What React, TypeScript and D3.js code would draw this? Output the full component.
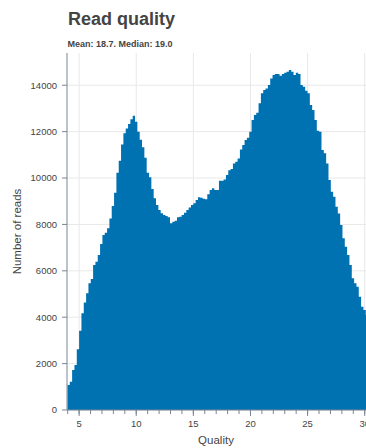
import React from "react";
import * as d3 from "d3";

// Histogram of per-read mean quality scores
const counts: number[] = [
  1080, 1220, 1720, 1940, 2620, 3420, 4170, 4630, 5030, 5460,
  5650, 6250, 6390, 6680, 7160, 7540, 7640, 7830, 8260, 8790,
  9370, 10230, 10750, 11450, 11930, 12140, 12330, 12530, 12690, 12430,
  12000, 11650, 11330, 10870, 10230, 10030, 9530, 9125, 8835, 8620,
  8480, 8405, 8360, 8305, 8050, 8120, 8160, 8305, 8330, 8405,
  8505, 8620, 8735, 8835, 8910, 9050, 9170, 9150, 9110, 9080,
  9300, 9480, 9555, 9480, 9480, 9885, 9885, 9940, 10130, 10340,
  10390, 10630, 10700, 10845, 11235, 11420, 11640, 11735, 12000, 12500,
  12715, 12815, 13220, 13650, 13790, 13865, 14010, 14295, 14440, 14480,
  14480, 14410, 14480, 14540, 14585, 14654, 14585, 14440, 14540, 14480,
  14010, 13935, 13760, 13650, 13150, 12930, 12500, 12040, 12000, 11206,
  11063, 10630, 9913, 9410, 9195, 8763, 8476, 7975, 7400, 7040,
  6680, 6250, 5675, 5460, 5315, 4885, 4455, 4310, 4100,
];
const binStart = 3.98;
const binWidth = 0.204;

const xMajorTicks: number[] = [5, 10, 15, 20, 25, 30];
const xMinorTicks: number[] = d3.range(4, 31);
const yTicks: number[] = [0, 2000, 4000, 6000, 8000, 10000, 12000, 14000];

const titleText = "Read quality";
const subtitleText = "Mean: 18.7. Median: 19.0";
const xLabel = "Quality";
const yLabel = "Number of reads";

const W = 366;
const H = 448;
const frame = { left: 67, right: 367, top: 53, bottom: 410 };
const FONT = "'Liberation Sans', Arial, Helvetica, sans-serif";
const BAR = "#0072B2";
const AXIS = "#7a8696";
const GRID = "#e8e8e8";
const TEXT = "#444444";

export default function App() {
  const x = d3.scaleLinear().domain([3.94, 30.2]).range([frame.left, frame.right]);
  const y = d3.scaleLinear().domain([0, 15390]).range([frame.bottom, frame.top]);

  // Bin edges with counts; the trailing edge repeats the last count so the
  // step area closes the final bin.
  const steps = counts.map((c, i) => ({ edge: binStart + i * binWidth, c }));
  steps.push({ edge: binStart + counts.length * binWidth, c: counts[counts.length - 1] });

  const bars = d3
    .area<{ edge: number; c: number }>()
    .x((d) => x(d.edge))
    .y0(y(0))
    .y1((d) => y(d.c))
    .curve(d3.curveStepAfter);

  return (
    <svg
      width={W}
      height={H}
      style={{ position: "absolute", left: 0, top: 0, background: "#fff" }}
      fontFamily={FONT}
    >
      <rect x={0} y={0} width={W} height={H} fill="#fff" />
      {/* grid */}
      {xMajorTicks.map((t) => (
        <line key={"gx" + t} x1={x(t)} x2={x(t)} y1={frame.top} y2={frame.bottom} stroke={GRID} strokeWidth={1} />
      ))}
      {yTicks.map((t) => (
        <line key={"gy" + t} x1={frame.left} x2={frame.right} y1={y(t)} y2={y(t)} stroke={GRID} strokeWidth={1} />
      ))}
      {/* histogram bars */}
      <path d={bars(steps) || ""} fill={BAR} />
      {/* y axis */}
      <line x1={frame.left} x2={frame.left} y1={frame.top} y2={frame.bottom} stroke={AXIS} strokeWidth={1} />
      {yTicks.map((t) => (
        <g key={"ty" + t}>
          <line x1={frame.left - 5} x2={frame.left} y1={y(t)} y2={y(t)} stroke={AXIS} strokeWidth={1} />
          <text x={frame.left - 10} y={y(t)} dy="0.35em" textAnchor="end" fontSize={9.5} fill={TEXT}>
            {t}
          </text>
        </g>
      ))}
      {/* x axis */}
      <line x1={frame.left} x2={frame.right} y1={frame.bottom} y2={frame.bottom} stroke={AXIS} strokeWidth={1} />
      {xMinorTicks.map((t) => (
        <line key={"mx" + t} x1={x(t)} x2={x(t)} y1={frame.bottom} y2={frame.bottom + 4} stroke={AXIS} strokeWidth={1} />
      ))}
      {xMajorTicks.map((t) => (
        <g key={"tx" + t}>
          <line x1={x(t)} x2={x(t)} y1={frame.bottom} y2={frame.bottom + 6} stroke={AXIS} strokeWidth={1} />
          <text x={x(t)} y={427} textAnchor="middle" fontSize={9.5} fill={TEXT}>
            {t}
          </text>
        </g>
      ))}
      {/* labels */}
      <text x={216} y={444} textAnchor="middle" fontSize={11.5} fill={TEXT}>
        {xLabel}
      </text>
      <text
        transform={`translate(21,${(frame.top + frame.bottom) / 2}) rotate(-90)`}
        textAnchor="middle"
        fontSize={11.5}
        fill={TEXT}
      >
        {yLabel}
      </text>
      <text x={68} y={25} fontSize={18} fontWeight="bold" fill={TEXT}>
        {titleText}
      </text>
      <text x={67.5} y={46.5} fontSize={9} fontWeight="bold" fill={TEXT}>
        {subtitleText}
      </text>
    </svg>
  );
}
